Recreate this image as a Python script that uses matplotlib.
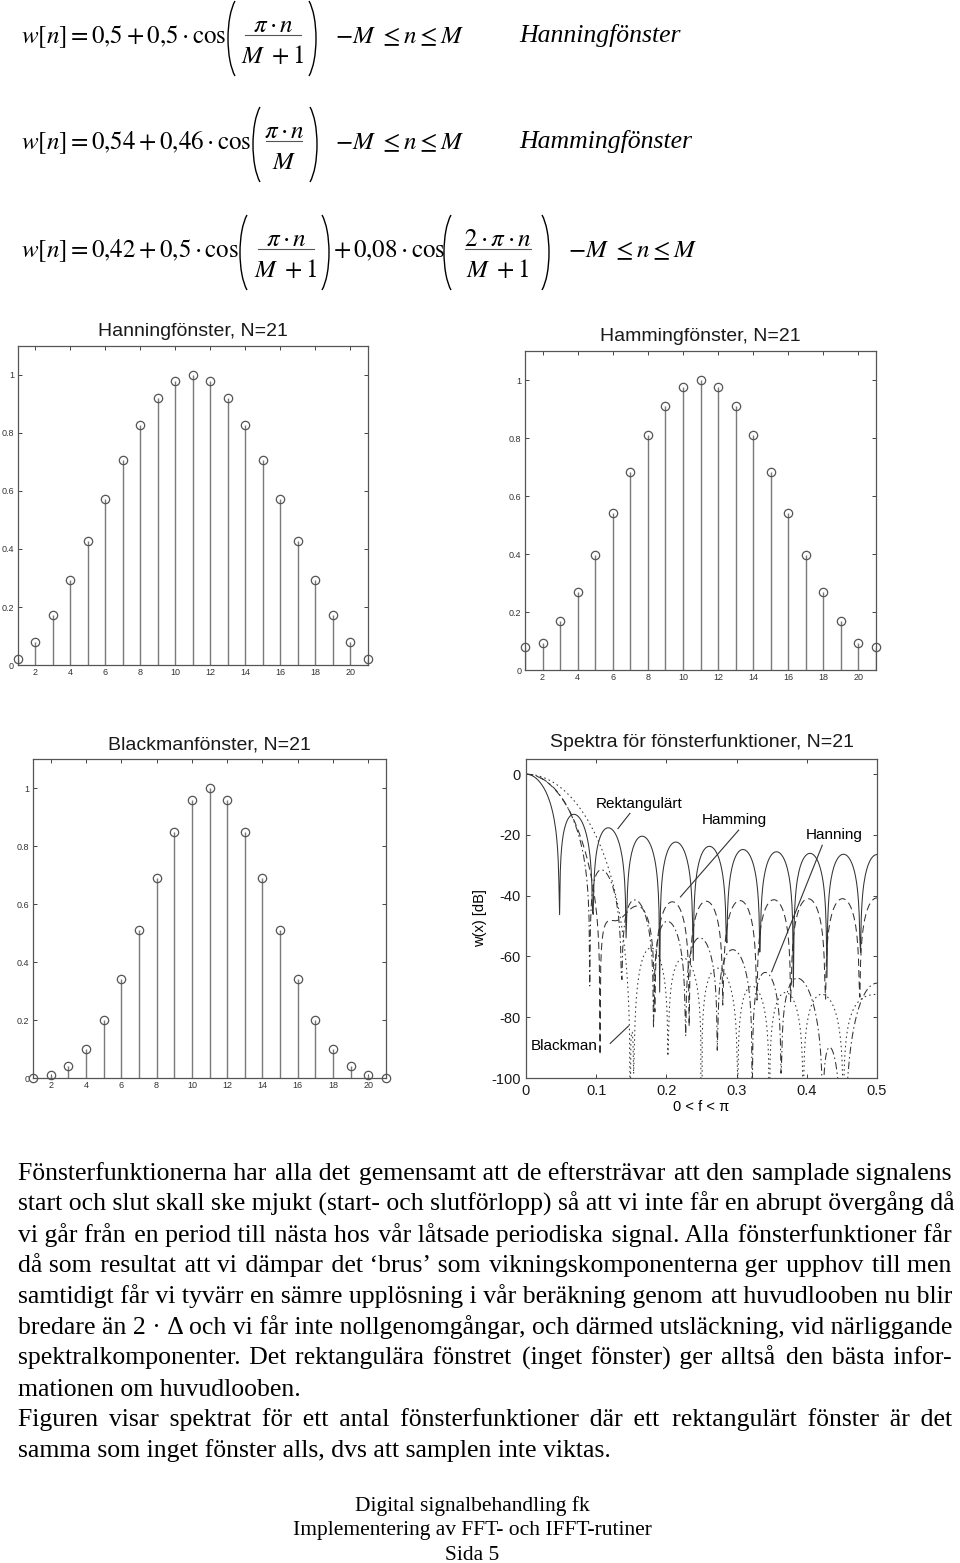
import numpy as np
import matplotlib
matplotlib.use("Agg")
import matplotlib.pyplot as plt
from matplotlib.patches import Arc

# window samples (N=21)
n_idx = list(range(1, 22))
hanning_w = [0.020, 0.079, 0.173, 0.292, 0.429, 0.571, 0.708, 0.827, 0.921, 0.980, 1.000,
             0.980, 0.921, 0.827, 0.708, 0.571, 0.429, 0.292, 0.173, 0.079, 0.020]
hamming_w = [0.080, 0.093, 0.168, 0.270, 0.398, 0.540, 0.682, 0.810, 0.912, 0.977, 1.000,
             0.977, 0.912, 0.810, 0.682, 0.540, 0.398, 0.270, 0.168, 0.093, 0.080]
blackman_w = [0.000, 0.009, 0.040, 0.101, 0.201, 0.340, 0.510, 0.689, 0.849, 0.960, 1.000,
              0.960, 0.849, 0.689, 0.510, 0.340, 0.201, 0.101, 0.040, 0.009, 0.000]
rect_w = [1.0] * 21

stem_xticks = [2, 4, 6, 8, 10, 12, 14, 16, 18, 20]
stem_yticks = [0, 0.2, 0.4, 0.6, 0.8, 1]
stem_ylabels = ["0", "0.2", "0.4", "0.6", "0.8", "1"]
spec_xticks = [0, 0.1, 0.2, 0.3, 0.4, 0.5]
spec_xlabels = ["0", "0.1", "0.2", "0.3", "0.4", "0.5"]
spec_yticks = [0, -20, -40, -60, -80, -100]
spec_ylabels = ["0", "-20", "-40", "-60", "-80", "-100"]

body_lines = [
    ("Fönsterfunktionerna har alla det gemensamt att de eftersträvar att den samplade signalens", True),
    ("start och slut skall ske mjukt (start- och slutförlopp) så att vi inte får en abrupt övergång då", True),
    ("vi går från en period till nästa hos vår låtsade periodiska signal. Alla fönsterfunktioner får", True),
    ("då som resultat att vi dämpar det \u2018brus\u2019 som vikningskomponenterna ger upphov till men", True),
    ("samtidigt får vi tyvärr en sämre upplösning i vår beräkning genom att huvudlooben nu blir", True),
    ("bredare än 2\u00a0·\u00a0Δ och vi får inte nollgenomgångar, och därmed utsläckning, vid närliggande", True),
    ("spektralkomponenter. Det rektangulära fönstret (inget fönster) ger alltså den bästa infor-", True),
    ("mationen om huvudlooben.", False),
    ("Figuren visar spektrat för ett antal fönsterfunktioner där ett rektangulärt fönster är det", True),
    ("samma som inget fönster alls, dvs att samplen inte viktas.", False),
]
footer_lines = ["Digital signalbehandling fk", "Implementering av FFT- och IFFT-rutiner", "Sida 5"]

W, H = 960, 1563
plt.rcParams['mathtext.fontset'] = 'stix'
plt.rcParams['font.family'] = ['Liberation Sans', 'DejaVu Sans']
fig = plt.figure(figsize=(W / 100, H / 100), dpi=100)
fig.patch.set_facecolor('white')

serif = ['Liberation Serif', 'DejaVu Serif']


def add_ax(l, t, r, b):
    return fig.add_axes([l / W, 1 - b / H, (r - l) / W, (b - t) / H])


# overlay in page pixels for the formulas and the running text
ov = fig.add_axes([0, 0, 1, 1])
ov.set_xlim(0, W)
ov.set_ylim(H, 0)
ov.axis('off')
ov.patch.set_alpha(0)

fs_math = 18


def mtext(x, y, s, **kw):
    return ov.text(x, y, s, fontsize=fs_math, va='baseline', color='black', **kw)


def paren(x, b, side):
    # big round bracket spanning the fraction; x is the outer edge
    top, bot = b - 42, b + 33
    cy = (top + bot) / 2
    a = 14
    bb = (bot - top) / 2 / np.sin(np.radians(60))

    def polar(t):
        t = np.radians(t)
        return np.degrees(np.arctan2(bb * np.sin(t), a * np.cos(t)))

    if side == 'l':
        arc = Arc((x + a, cy), 2 * a, 2 * bb, theta1=polar(120), theta2=360 + polar(240),
                  lw=1.0, color='black')
    else:
        arc = Arc((x - a, cy), 2 * a, 2 * bb, theta1=polar(-60), theta2=polar(60),
                  lw=1.0, color='black')
    ov.add_patch(arc)


def fraction(cx, half, b, num, den):
    mtext(cx, b - 11, num, ha='center')
    mtext(cx, b + 20, den, ha='center')
    ov.plot([cx - half, cx + half], [b - 8, b - 8], color='#555555', lw=0.8)


# ---- formulas at the top
b = 43
mtext(21, b, r'$w[n] = 0{,}5 + 0{,}5\cdot\cos$')
paren(228, b, 'l')
fraction(273, 28, b, r'$\pi\cdot n$', r'$M\ +1$')
paren(316, b, 'r')
mtext(335, b, r'$-M\ \leq n \leq M$')
ov.text(519, b - 1, 'Hanningfönster', fontsize=18.5, family=serif, style='italic', va='baseline')

b = 149
mtext(21, b, r'$w[n] = 0{,}54 + 0{,}46\cdot\cos$')
paren(253, b, 'l')
fraction(284, 18, b, r'$\pi\cdot n$', r'$M$')
paren(317, b, 'r')
mtext(335, b, r'$-M\ \leq n \leq M$')
ov.text(519, b - 1, 'Hammingfönster', fontsize=18.5, family=serif, style='italic', va='baseline')

b = 257
mtext(21, b, r'$w[n] = 0{,}42 + 0{,}5\cdot\cos$')
paren(240, b, 'l')
fraction(286, 28, b, r'$\pi\cdot n$', r'$M\ +1$')
paren(329, b, 'r')
mtext(333, b, r'$+\,0{,}08\cdot\cos$')
paren(444, b, 'l')
fraction(498, 33, b, r'$2\cdot\pi\cdot n$', r'$M\ +1$')
paren(549, b, 'r')
mtext(568, b, r'$-M\ \leq n \leq M$')


# ---- stem plots
def stem_plot(ax, w, title):
    ml, sl, bl = ax.stem(n_idx, w, basefmt=' ')
    plt.setp(sl, color='#7a7a7a', linewidth=1.0)
    plt.setp(ml, marker='o', markersize=6, markerfacecolor='none',
             markeredgecolor='#555555', markeredgewidth=0.9, clip_on=False)
    ax.set_xlim(1, 21)
    ax.set_ylim(0, 1.1)
    ax.set_xticks(stem_xticks)
    ax.set_yticks(stem_yticks)
    ax.set_yticklabels(stem_ylabels)
    ax.tick_params(direction='in', top=True, right=True, length=3, width=0.7,
                   labelsize=6.5, pad=2.5, colors='#444444', labelcolor='#333333')
    for sp in ax.spines.values():
        sp.set_color('#555555')
        sp.set_linewidth(0.9)
    ax.set_title(title, fontsize=14, pad=7, color='#1a1a1a')


stem_plot(add_ax(17.5, 346, 368, 665), hanning_w, 'Hanningfönster, N=21')
stem_plot(add_ax(525, 351, 876, 670), hamming_w, 'Hammingfönster, N=21')
stem_plot(add_ax(33, 759, 386, 1078), blackman_w, 'Blackmanfönster, N=21')

# ---- spectra of the same windows
ax = add_ax(526, 759, 877, 1078)
nfft = 1024
freqs = np.fft.rfftfreq(nfft)


def spec_db(w):
    mag = np.abs(np.fft.rfft(np.asarray(w), nfft))
    return 20 * np.log10(mag / mag[0] + 1e-12)


lw = 0.75
ax.plot(freqs, spec_db(rect_w), '-', color='#333333', lw=lw)
ax.plot(freqs, spec_db(hamming_w), color='#333333', lw=lw, dashes=(7, 4))
ax.plot(freqs, spec_db(hanning_w), color='#333333', lw=lw, dashes=(7, 3, 1.5, 3))
ax.plot(freqs, spec_db(blackman_w), color='#333333', lw=lw, dashes=(1.5, 3))
ax.set_xlim(0, 0.5)
ax.set_ylim(-100, 5)
ax.set_xticks(spec_xticks)
ax.set_xticklabels(spec_xlabels)
ax.set_yticks(spec_yticks)
ax.set_yticklabels(spec_ylabels)
ax.tick_params(direction='in', top=True, right=True, length=3, width=0.7,
               labelsize=10.5, pad=4, colors='#444444', labelcolor='#1a1a1a')
for sp in ax.spines.values():
    sp.set_color('#555555')
    sp.set_linewidth(0.9)
ax.set_title('Spektra för fönsterfunktioner, N=21', fontsize=14, pad=9, color='#1a1a1a')
ax.set_xlabel('0 < f < \u03c0', fontsize=10.5, labelpad=2)
ax.set_ylabel('w(x) [dB]', fontsize=10.5, labelpad=3)

ann_kw = dict(color='#333333', lw=0.8)
ax.plot([0.131, 0.148], [-17.9, -12.9], **ann_kw)
ax.text(0.161, -9.9, 'Rektangulärt', fontsize=11, ha='center', va='center')
ax.plot([0.303, 0.220], [-18.4, -40.4], **ann_kw)
ax.text(0.297, -15.1, 'Hamming', fontsize=11, ha='center', va='center')
ax.plot([0.422, 0.350], [-23.4, -65.0], **ann_kw)
ax.text(0.439, -20.1, 'Hanning', fontsize=11, ha='center', va='center')
ax.plot([0.120, 0.146], [-88.6, -82.9], **ann_kw)
ax.text(0.055, -89.5, 'Blackman', fontsize=11, ha='center', va='center')

# ---- body text: one text per line, justified by padding the gaps with hair spaces
fs_body = 18.5
left, right = 18, 953
renderer = fig.canvas.get_renderer()


def text_width(s):
    t = ov.text(0, 0, s, fontsize=fs_body, family=serif)
    w = t.get_window_extent(renderer).width
    t.remove()
    return w


pad_char = '\u200a'
pad_w = (text_width('a' + pad_char * 40 + 'a') - text_width('aa')) / 40
if pad_w < 0.5:
    pad_char = '\u2009'
    pad_w = (text_width('a' + pad_char * 40 + 'a') - text_width('aa')) / 40

baseline = 1180
for line, justify in body_lines:
    s = line
    if justify:
        words = line.split(' ')
        extra = (right - left) - text_width(line)
        per_gap = max(extra, 0) / (len(words) - 1) / pad_w
        acc, parts = 0.0, [words[0]]
        for wd in words[1:]:
            acc += per_gap
            k = int(acc)
            acc -= k
            parts.append(' ' + pad_char * k + wd)
        s = ''.join(parts)
    ov.text(left, baseline, s, fontsize=fs_body, family=serif, va='baseline')
    baseline += 30.8

fy = 1511
for line in footer_lines:
    ov.text(472, fy, line, fontsize=15.5, family=serif, ha='center', va='baseline')
    fy += 24.5

fig.savefig('out.png', dpi=100, facecolor='white')
